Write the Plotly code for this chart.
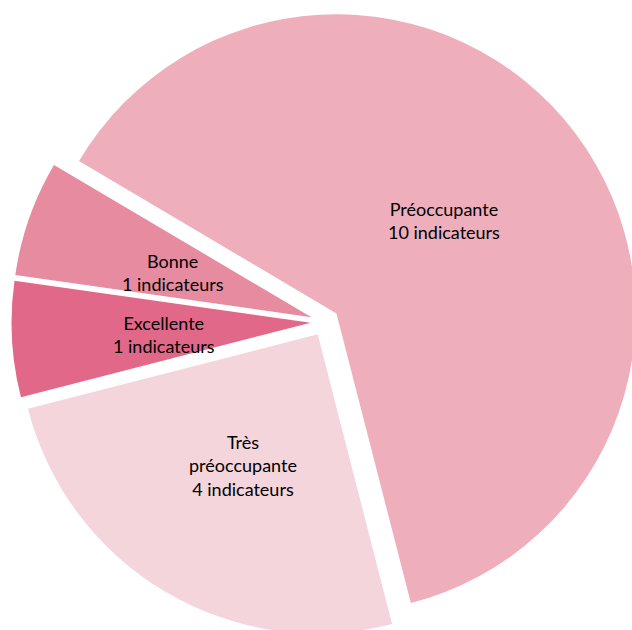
import numpy as np
import plotly.graph_objects as go

# Données
categories = ["Préoccupante", "Très<br>préoccupante", "Excellente", "Bonne"]
values = [10, 4, 1, 1]
unit_label = "indicateurs"
slice_colors = ["#EFAEBC", "#F4D5DC", "#E26889", "#E68BA0"]

W, H = 660, 650          # figure un peu plus grande que la fenêtre (débord comme l'original)
CX, CY, BOX = 325, 322, 627
PULL = 0.048
START = 149.4            # angle de départ (degrés, sens trigo)
LABEL_NUDGE = {"Préoccupante": (-10, -9)}   # petits décalages en pixels

fig = go.Figure(go.Pie(
    labels=categories,
    values=values,
    marker=dict(colors=slice_colors, line=dict(width=0)),
    pull=[PULL] * len(values),
    sort=False,
    direction="clockwise",
    rotation=90 - START,
    textinfo="none",
    hoverinfo="label+value",
    showlegend=False,
    domain=dict(x=[(CX - BOX / 2) / W, (CX + BOX / 2) / W],
                y=[1 - (CY + BOX / 2) / H, 1 - (CY - BOX / 2) / H]),
))

# Étiquettes placées sur la bissectrice de chaque part
r = BOX / (2 + 2 * PULL)
total = sum(values)
cum = 0
for cat, v in zip(categories, values):
    mid = np.radians(START - (cum + v / 2) / total * 360)
    cum += v
    dx, dy = LABEL_NUDGE.get(cat, (0, 0))
    px = CX + 0.54 * r * np.cos(mid) + dx
    py = CY - 0.54 * r * np.sin(mid) + 4 + dy
    fig.add_annotation(
        x=px / W, y=1 - py / H, xref="paper", yref="paper",
        xanchor="center", yanchor="middle",
        text=f"{cat}<br>{v} {unit_label}", showarrow=False,
        font=dict(size=18, color="#000000", family="Lato, sans-serif"),
    )

fig.update_layout(
    width=W, height=H,
    margin=dict(l=0, r=0, t=0, b=0),
    paper_bgcolor="white",
    plot_bgcolor="white",
)

fig.write_html(
    "out.html",
    config={"displayModeBar": False},
    post_script="document.body.style.overflow='hidden';document.body.style.margin='0';",
)
